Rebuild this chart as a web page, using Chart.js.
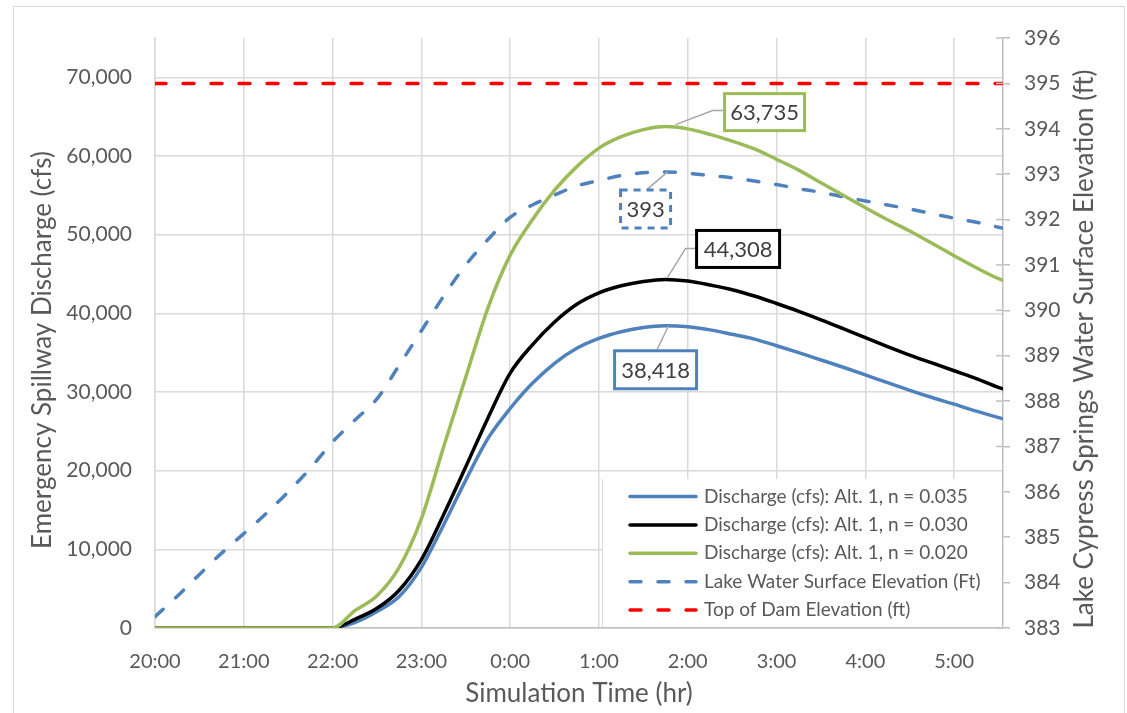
<!DOCTYPE html>
<html>
<head>
<meta charset="utf-8">
<script src="https://cdn.jsdelivr.net/npm/chart.js@4/dist/chart.umd.min.js"></script>
<style>
  html, body { margin: 0; padding: 0; background: #fff; }
  #wrap { position: relative; width: 1127px; height: 713px; }
</style>
</head>
<body>
<div id="wrap"><canvas id="spillwayChart" width="1127" height="713"></canvas></div>
<script>
// hours after 20:00
const hours = [0, 0.25, 0.5, 0.75, 1, 1.25, 1.5, 1.75, 2, 2.25, 2.5, 2.75, 3, 3.25, 3.5, 3.75, 4, 4.25, 4.5, 4.75,
    5, 5.25, 5.5, 5.75, 6, 6.25, 6.5, 6.75, 7, 7.25, 7.5, 7.75, 8, 8.25, 8.5, 8.75, 9, 9.25, 9.5, 9.55];

const dischargeN035 = [0, 0, 0, 0, 0, 0, 0, 0, 0, 700, 2100, 4000, 7700, 13100, 18800, 24100, 27900, 31100, 33650, 35550,
    36810, 37650, 38200, 38418, 38300, 37900, 37330, 36720, 35880, 35000, 34070, 33150, 32180, 31180, 30210, 29300, 28450, 27560, 26750, 26600];

const dischargeN030 = [0, 0, 0, 0, 0, 0, 0, 0, 0, 1100, 2500, 4800, 8700, 14400, 20500, 26700, 32400, 36000, 38900, 41150,
    42600, 43500, 44050, 44308, 44100, 43600, 43000, 42200, 41250, 40250, 39180, 38050, 36900, 35780, 34700, 33700, 32700, 31700, 30580, 30400];

const dischargeN020 = [0, 0, 0, 0, 0, 0, 0, 0, 0, 2200, 4100, 7700, 13900, 23000, 31900, 40700, 47400, 51900, 55650, 58650,
    61000, 62450, 63350, 63735, 63450, 62750, 61900, 60900, 59580, 58200, 56600, 55020, 53430, 51900, 50460, 48900, 47330, 45800, 44400, 44200];

const lakeElevation = [383.25, 383.7, 384.18, 384.65, 385.08, 385.52, 386.0, 386.52, 387.1, 387.58, 388.05, 388.79, 389.55, 390.31, 391.0, 391.56, 392.05, 392.32, 392.54, 392.74,
    392.86, 392.97, 393.03, 393.05, 393.02, 392.97, 392.92, 392.85, 392.77, 392.68, 392.6, 392.5, 392.41, 392.32, 392.23, 392.13, 392.03, 391.94, 391.83, 391.81];

const topOfDam = 395;

const hourTicks = [0, 1, 2, 3, 4, 5, 6, 7, 8, 9];
const timeLabels = ['20:00', '21:00', '22:00', '23:00', '0:00', '1:00', '2:00', '3:00', '4:00', '5:00'];
const dischargeTicks = [0, 10000, 20000, 30000, 40000, 50000, 60000, 70000];
const elevationTicks = [383, 384, 385, 386, 387, 388, 389, 390, 391, 392, 393, 394, 395, 396];

const legendLabels = [
    'Discharge (cfs): Alt. 1, n = 0.035',
    'Discharge (cfs): Alt. 1, n = 0.030',
    'Discharge (cfs): Alt. 1, n = 0.020',
    'Lake Water Surface Elevation (Ft)',
    'Top of Dam Elevation (ft)'
];

const BLUE = '#4F81BD';
const GREEN = '#9BBB59';
const RED = '#FF0000';
const TEXT = '#595959';
const GRID = '#D9D9D9';
const FONT = 'Lato';

const toPoints = (ys) => ys.map((y, i) => ({ x: hours[i], y: y }));

// peak call-outs: box offsets from the peak point, leader path
const callouts = [
    { series: dischargeN020, axis: 'y', text: '63,735', color: GREEN, dash: [], box: [59, -33, 80, 37], leader: [[10, -2], [47, -16], [59, -16]] },
    { series: lakeElevation, axis: 'y1', text: '393', color: BLUE, dash: [7, 6], box: [-45, 18, 50, 38], leader: [[2, 0], [-19, 18]] },
    { series: dischargeN030, axis: 'y', text: '44,308', color: '#000000', dash: [], box: [31, -49, 83, 37], leader: [[2, -2], [20, -31], [31, -31]] },
    { series: dischargeN035, axis: 'y', text: '38,418', color: BLUE, dash: [], box: [-51, 25, 82, 38], leader: [[3, 0], [-9, 25]] }
];

const legendStyles = [
    { color: BLUE, dash: [] },
    { color: '#000000', dash: [] },
    { color: GREEN, dash: [] },
    { color: BLUE, dash: [11, 17] },
    { color: RED, dash: [11, 17] }
];

const decorations = {
    id: 'decorations',
    beforeDraw(chart) {
        const ctx = chart.ctx;
        ctx.save();
        ctx.strokeStyle = GRID;
        ctx.lineWidth = 1;
        ctx.strokeRect(13.5, 6.5, 1111, 720);

        // vertical axis titles, both read bottom to top
        ctx.fillStyle = TEXT;
        ctx.font = '26px ' + FONT;
        ctx.textAlign = 'center';
        ctx.textBaseline = 'middle';
        [[43, 350, 'Emergency Spillway Discharge (cfs)'], [1085, 349, 'Lake Cypress Springs Water Surface Elevation (ft)']].forEach(t => {
            ctx.save();
            ctx.translate(t[0], t[1]);
            ctx.rotate(-Math.PI / 2);
            ctx.fillText(t[2], 0, 0);
            ctx.restore();
        });
        ctx.restore();
    },
    afterDraw(chart) {
        const ctx = chart.ctx;
        const xs = chart.scales.x;
        const right = chart.scales.y1;

        // inner half of the right axis tick marks
        ctx.save();
        ctx.strokeStyle = '#BFBFBF';
        ctx.lineWidth = 1.5;
        right.ticks.forEach(t => {
            const py = right.getPixelForValue(t.value);
            ctx.beginPath();
            ctx.moveTo(right.left - 7, py);
            ctx.lineTo(right.left, py);
            ctx.stroke();
        });
        ctx.restore();

        // call-outs
        callouts.forEach(c => {
            let peak = 0;
            c.series.forEach((v, i) => { if (v > c.series[peak]) peak = i; });
            const ax = xs.getPixelForValue(hours[peak]);
            const ay = chart.scales[c.axis].getPixelForValue(c.series[peak]);
            ctx.save();
            ctx.strokeStyle = '#A6A6A6';
            ctx.lineWidth = 1.5;
            ctx.beginPath();
            c.leader.forEach((p, i) => {
                if (i === 0) ctx.moveTo(ax + p[0], ay + p[1]);
                else ctx.lineTo(ax + p[0], ay + p[1]);
            });
            ctx.stroke();
            const [bx, by, bw, bh] = c.box;
            ctx.fillStyle = '#fff';
            ctx.fillRect(ax + bx, ay + by, bw, bh);
            ctx.strokeStyle = c.color;
            ctx.lineWidth = 3;
            ctx.setLineDash(c.dash);
            ctx.strokeRect(ax + bx, ay + by, bw, bh);
            ctx.setLineDash([]);
            ctx.fillStyle = '#404040';
            ctx.font = '22px ' + FONT;
            ctx.textAlign = 'center';
            ctx.textBaseline = 'middle';
            ctx.fillText(c.text, ax + bx + bw / 2, ay + by + bh / 2 + 1);
            ctx.restore();
        });

        // legend box inside the plot
        ctx.save();
        ctx.fillStyle = '#fff';
        ctx.fillRect(602, 479, 400, 148);
        ctx.strokeStyle = GRID;
        ctx.lineWidth = 1;
        ctx.beginPath();
        ctx.moveTo(602.5, 479);
        ctx.lineTo(602.5, 627);
        ctx.stroke();
        ctx.font = '19px ' + FONT;
        ctx.textBaseline = 'middle';
        legendLabels.forEach((label, i) => {
            const py = 496.5 + i * 28.4;
            ctx.strokeStyle = legendStyles[i].color;
            ctx.lineWidth = 3.5;
            ctx.lineCap = 'round';
            ctx.setLineDash(legendStyles[i].dash);
            ctx.beginPath();
            ctx.moveTo(630, py);
            ctx.lineTo(696, py);
            ctx.stroke();
            ctx.setLineDash([]);
            ctx.fillStyle = TEXT;
            ctx.fillText(label, 704, py);
        });
        ctx.restore();
    }
};

const lineStyle = (color, dash) => ({
    borderColor: color,
    backgroundColor: color,
    borderWidth: 3.5,
    borderDash: dash,
    borderCapStyle: 'round',
    pointRadius: 0,
    fill: false,
    cubicInterpolationMode: 'monotone'
});

new Chart(document.getElementById('spillwayChart'), {
    type: 'line',
    data: {
        datasets: [
            Object.assign({ label: legendLabels[4], data: [{ x: hours[0], y: topOfDam }, { x: hours[hours.length - 1], y: topOfDam }], yAxisID: 'y1' }, lineStyle(RED, [11, 17])),
            Object.assign({ label: legendLabels[2], data: toPoints(dischargeN020), yAxisID: 'y' }, lineStyle(GREEN, [])),
            Object.assign({ label: legendLabels[1], data: toPoints(dischargeN030), yAxisID: 'y' }, lineStyle('#000000', [])),
            Object.assign({ label: legendLabels[0], data: toPoints(dischargeN035), yAxisID: 'y' }, lineStyle(BLUE, [])),
            Object.assign({ label: legendLabels[3], data: toPoints(lakeElevation), yAxisID: 'y1' }, lineStyle(BLUE, [11, 17]))
        ]
    },
    plugins: [decorations],
    options: {
        responsive: false,
        animation: false,
        events: [],
        layout: { padding: { top: 38, left: 0, right: 0, bottom: 0 } },
        plugins: {
            legend: { display: false },
            tooltip: { enabled: false }
        },
        scales: {
            x: {
                type: 'linear',
                min: 0,
                max: 9.55,
                afterFit: (scale) => { scale.height = 85; },
                afterBuildTicks: (scale) => { scale.ticks = hourTicks.map(v => ({ value: v })); },
                grid: { color: GRID, lineWidth: 1.5, drawTicks: false },
                border: { color: '#BFBFBF', width: 1.5 },
                ticks: {
                    padding: 22,
                    color: TEXT,
                    font: { family: FONT, size: 20 },
                    maxRotation: 0,
                    autoSkip: false,
                    callback: (v, i) => timeLabels[i]
                },
                title: {
                    display: true,
                    text: 'Simulation Time (hr)',
                    color: TEXT,
                    font: { family: FONT, size: 26 },
                    padding: { top: 0, bottom: 4 }
                }
            },
            y: {
                position: 'left',
                min: 0,
                max: 75000,
                afterFit: (scale) => { scale.width = 155; },
                afterBuildTicks: (scale) => { scale.ticks = dischargeTicks.map(v => ({ value: v })); },
                grid: { color: GRID, lineWidth: 1.5, drawTicks: false },
                border: { color: GRID, width: 1.5 },
                ticks: {
                    padding: 23,
                    color: TEXT,
                    font: { family: FONT, size: 21 },
                    callback: (v) => v.toLocaleString('en-US')
                },
                title: { display: false }
            },
            y1: {
                position: 'right',
                min: 383,
                max: 396,
                afterFit: (scale) => { scale.width = 124; },
                afterBuildTicks: (scale) => { scale.ticks = elevationTicks.map(v => ({ value: v })); },
                grid: { drawOnChartArea: false, color: '#BFBFBF', lineWidth: 1.5, tickLength: 7 },
                border: { color: '#BFBFBF', width: 1.5 },
                ticks: {
                    padding: 14,
                    color: TEXT,
                    font: { family: FONT, size: 21 }
                },
                title: { display: false }
            }
        }
    }
});
</script>
</body>
</html>
